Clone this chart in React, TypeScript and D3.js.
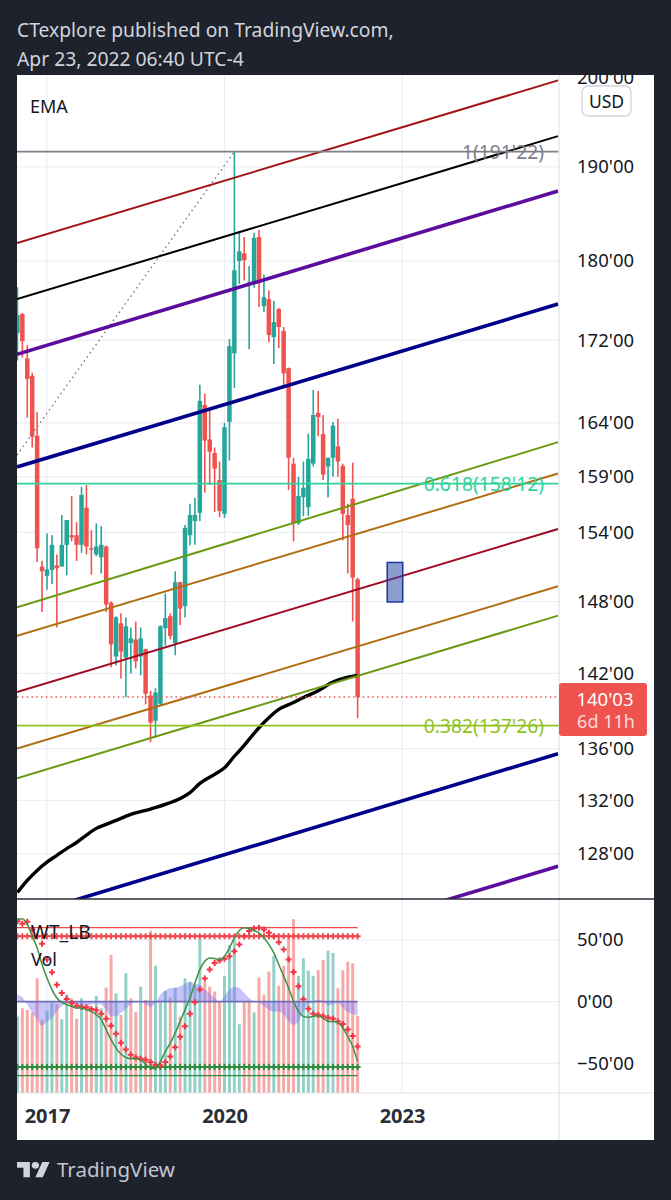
import React, { useEffect, useRef } from 'react';
import * as d3 from 'd3';

const WIDTH = 671;
const HEIGHT = 1200;
const FONT = '"Noto Sans", sans-serif';

// monthly candles, first one is Jul 2016 (month index counts from Jan 2017)
const firstMonth = -6;
const opens = [
  172.7, 174.6, 170.2, 168.5, 162.8, 151.0,
  150.2, 150.7, 151.1, 151.0, 152.9, 153.75, 153.75, 152.9, 156.2, 152.6, 152.05, 151.8,
  152.75, 147.9, 143.4, 146.15, 143.3, 144.5, 144.8, 143.4, 144.0, 140.2, 138.2, 139.55,
  145.75, 146.75, 144.5, 149.65, 147.6, 153.75, 155.0, 155.75, 165.7, 162.45, 161.2, 158.7,
  155.65, 164.1, 170.7, 180.0, 180.8, 177.6, 177.7, 182.5, 175.4, 176.1, 172.3, 175.1,
  172.9, 169.25, 160.2, 154.8, 157.15, 156.25, 160.2, 164.95, 162.95, 159.95, 160.75, 161.8,
  160.0, 155.55, 157.0, 149.9,
];
const highs = [
  177.3, 174.7, 171.5, 168.8, 165.0, 151.5,
  153.9, 153.75, 152.05, 155.55, 155.1, 157.25, 154.9, 158.1, 158.25, 154.2, 154.8, 154.55,
  152.85, 148.0, 146.75, 147.0, 146.65, 145.8, 146.3, 145.8, 144.05, 140.6, 140.8, 146.0,
  148.7, 147.0, 150.6, 149.7, 154.65, 156.55, 157.1, 167.65, 166.8, 165.25, 161.7, 160.4,
  164.0, 172.1, 191.75, 182.95, 182.5, 179.5, 182.95, 183.25, 178.6, 177.0, 175.9, 175.2,
  173.3, 169.3, 160.75, 159.0, 160.4, 163.0, 167.15, 167.05, 164.75, 160.75, 164.1, 164.4,
  160.2, 156.55, 160.3, 150.05,
];
const lows = [
  170.0, 170.3, 164.5, 161.7, 151.4, 147.1,
  149.0, 149.5, 145.8, 151.0, 150.25, 153.2, 151.5, 152.2, 152.05, 150.3, 151.9, 150.4,
  147.1, 142.5, 142.65, 141.6, 140.1, 142.0, 142.4, 141.85, 139.5, 136.5, 136.85, 139.4,
  144.3, 144.8, 143.5, 146.0, 146.65, 152.85, 152.9, 155.0, 157.55, 158.25, 155.8, 155.35,
  155.3, 160.5, 167.35, 177.65, 178.0, 171.1, 177.25, 175.3, 174.8, 171.8, 169.65, 171.2,
  167.55, 157.8, 153.2, 154.65, 155.45, 155.45, 159.95, 162.75, 158.7, 157.15, 159.0, 159.0,
  153.3, 150.4, 146.3, 138.4,
];
const closes = [
  174.5, 171.9, 168.2, 162.7, 152.6, 150.6,
  150.75, 152.9, 150.85, 152.9, 155.1, 153.55, 152.9, 157.35, 152.75, 152.5, 152.75, 152.9,
  147.75, 144.4, 146.65, 143.8, 145.9, 144.9, 143.0, 144.9, 140.35, 138.05, 140.45, 145.9,
  146.6, 145.1, 149.65, 147.4, 154.4, 155.55, 155.55, 166.1, 162.35, 161.3, 159.75, 155.9,
  163.6, 171.4, 179.05, 181.0, 180.1, 177.8, 182.4, 177.75, 176.3, 172.5, 173.8, 173.3,
  168.75, 160.75, 154.8, 157.25, 158.0, 160.65, 164.75, 164.55, 159.2, 160.75, 163.75, 160.4,
  155.65, 154.65, 150.05, 140.09,
];

const volumes = [
  43.9, 48.7, 47.7, 46.2, 65.9, 42.0,
  47.2, 51.6, 51.0, 42.4, 56.7, 54.4, 42.6, 54.4, 49.1, 47.7, 55.8, 48.7,
  60.6, 79.4, 57.3, 44.9, 68.8, 54.4, 46.4, 61.1, 53.5, 93.2, 73.2, 52.5,
  58.7, 54.8, 60.6, 43.9, 65.9, 64.0, 62.1, 88.9, 64.0, 61.1, 58.3, 52.5,
  67.3, 85.1, 88.0, 39.5, 52.5, 52.5, 46.4, 66.3, 56.4, 69.8, 78.8, 61.7,
  73.2, 88.9, 99.9, 67.3, 77.4, 70.3, 67.3, 70.7, 76.5, 81.8, 80.5, 60.2,
  70.5, 75.5, 74.6, 44.3,
];
// months whose volume bar is red although the candle closed up
const redVolumeMonths = [17, 41, 44];

const wtFast = [
  66.7, 67.2, 62.6, 53.1, 43.6, 30.1,
  19.2, 9.8, 3.0, -0.5, -2.4, -3.8, -5.1, -5.1, -6.5, -7.9, -10.6, -14.6,
  -22.8, -30.9, -37.7, -42.5, -45.3, -46.3, -46.3, -47.2, -50.7, -53.9, -54.5, -48.5,
  -40.4, -33.6, -25.5, -16.0, -6.5, 3.0, 15.2, 26.0, 32.8, 35.5, 35.0, 34.1,
  36.9, 43.6, 51.8, 57.7, 59.9, 59.3, 57.7, 55.8, 51.8, 46.3, 39.6, 30.1,
  20.6, 11.1, 0.3, -7.9, -11.9, -12.7, -11.9, -11.4, -13.3, -16.0, -16.0, -16.8,
  -21.4, -28.2, -36.3, -48.5,
];
const wtSlow = [
  65.3, 63.1, 64.8, 58.5, 53.1, 46.9,
  34.1, 23.8, 13.8, 7.0, 2.2, -1.1, -3.3, -4.3, -4.6, -6.0, -7.0, -9.8,
  -13.8, -19.5, -26.0, -33.3, -38.8, -43.1, -45.3, -46.3, -47.2, -49.0, -51.2, -51.8,
  -49.0, -44.5, -36.9, -28.5, -20.0, -9.8, -0.5, 9.8, 18.7, 26.0, 31.4, 33.3,
  34.7, 36.9, 40.9, 46.3, 53.1, 57.2, 59.3, 59.9, 58.5, 55.8, 53.1, 48.2,
  42.3, 34.1, 24.1, 12.5, 1.9, -5.7, -9.8, -10.8, -11.9, -13.0, -13.8, -16.0,
  -18.1, -22.5, -27.9, -36.3,
];
const wtArea = [
  5.7, 3.5, -2.4, -9.2, -14.6, -19.5,
  -16.5, -13.3, -7.9, -3.8, -1.1, -0.2, -2.4, -3.8, -3.8, -2.4, -1.1, -2.4,
  -6.5, -11.9, -11.9, -9.2, -5.7, -1.9, 0.3, 0.3, -2.4, -4.4, -1.1, 5.7,
  8.9, 11.1, 11.1, 12.5, 14.4, 16.0, 14.4, 13.8, 9.8, 7.0, 3.0, 0.3,
  4.3, 9.8, 11.9, 11.1, 7.0, 3.0, 0.3, -0.5, -3.8, -6.5, -7.9, -7.9,
  -10.6, -16.0, -18.7, -16.0, -7.9, -1.6, -0.2, 1.6, 0.3, -3.3, -1.9, -1.1,
  -5.1, -8.4, -10.0, -11.4,
];
const wtLevels = [60, 53, -53, -60];

const emaMonths = [-6, -4, -2, 0, 2, 4, 6, 8, 10, 12, 14, 17, 21, 24, 27, 29, 31, 34, 36, 38, 40, 42, 44, 47, 50, 52, 55, 58, 61, 63];
const emaValues = [
  125.2, 126.07, 126.8, 127.4, 127.9, 128.4, 128.85, 129.4, 129.9, 130.2, 130.5, 130.95, 131.35, 131.7, 132.15,
  132.6, 133.3, 134.0, 134.5, 135.4, 136.25, 137.2, 138.05, 139.1, 139.65, 140.05, 140.6, 141.3, 141.7, 141.85,
];

// channel lines, price at the left and right edge of the plot
const channelFrom = -6.085;
const channelTo = 103.65;
const channelLeft = [181.87, 176.1, 170.6, 159.9, 147.5, 145.1, 140.5, 136.0, 133.7, 123.4, 115.7];
const channelRight = [199.7, 193.4, 187.4, 175.6, 162.2, 159.3, 154.3, 149.3, 146.8, 135.6, 127.1];
const channelColors = ['#a31414', '#000000', '#5c0d9e', '#00008b', '#6b9a10', '#b06d12', '#a00a22', '#b06d12', '#6b9a10', '#00008b', '#5c0d9e'];
const channelWeights = [2, 2, 3.6, 3.6, 2, 2, 2, 2, 2, 3.6, 3.6];

const fibPrices = [191.6875, 158.375, 137.8125];
const fibNames = ['1', '0.618', '0.382'];
const fibColors = ['#7d8088', '#2fd29b', '#8fc31f'];

const trendMonths = [-6.085, 38];
const trendPrices = [161.0, 191.6875];

const boxMonths = [69, 72.15];
const boxPrices = [151.36, 147.96];

const priceTicks = [200, 190, 180, 172, 164, 159, 154, 148, 142, 136, 132, 128];
const wtTicks = [50, 0, -50];
const yearTicks = [2017, 2020, 2023];
const lastPrice = 140.09;

const formatPrice = (v: number) => {
  const whole = Math.floor(Math.abs(v));
  const ticks = Math.round((Math.abs(v) - whole) * 32);
  return `${v < 0 ? '\u2212' : ''}${whole}'${String(ticks).padStart(2, '0')}`;
};

const App: React.FC = () => {
  const svgRef = useRef<SVGSVGElement>(null);

  useEffect(() => {
    if (!svgRef.current) return;
    const svg = d3.select(svgRef.current);
    svg.selectAll('*').remove();

    const panel = { left: 17, right: 654, top: 75, bottom: 1140 };
    const plotRight = 559;
    const paneBottom = 899;
    const lowerBottom = 1093;

    const months = d3.range(opens.length).map((i) => firstMonth + i);
    const x = d3.scaleLinear().domain([0, 72]).range([47, 402]);
    const y = d3.scaleLog().domain([128, 190]).range([854, 167]);
    const wtY = d3.scaleLinear().domain([-50, 50]).range([1063.3, 940]);
    const volY = d3.scaleLinear().domain([0, 100]).range([lowerBottom, 919]);

    svg.append('rect').attr('width', WIDTH).attr('height', HEIGHT).attr('fill', '#1e222d');

    svg.append('text').attr('x', 17).attr('y', 37).attr('fill', '#d1d4dc')
      .attr('font-size', 19.3).attr('font-family', FONT)
      .text('CTexplore published on TradingView.com,');
    svg.append('text').attr('x', 17).attr('y', 66).attr('fill', '#d1d4dc')
      .attr('font-size', 19.3).attr('font-family', FONT)
      .text('Apr 23, 2022 06:40 UTC-4');

    const defs = svg.append('defs');
    defs.append('clipPath').attr('id', 'panel-clip').append('rect')
      .attr('x', panel.left).attr('y', panel.top)
      .attr('width', panel.right - panel.left).attr('height', panel.bottom - panel.top);
    defs.append('clipPath').attr('id', 'main-clip').append('rect')
      .attr('x', panel.left).attr('y', panel.top)
      .attr('width', plotRight - panel.left).attr('height', paneBottom - panel.top);
    defs.append('clipPath').attr('id', 'lower-clip').append('rect')
      .attr('x', panel.left).attr('y', paneBottom)
      .attr('width', plotRight - panel.left).attr('height', lowerBottom - paneBottom);

    svg.append('rect')
      .attr('x', panel.left).attr('y', panel.top)
      .attr('width', panel.right - panel.left).attr('height', panel.bottom - panel.top)
      .attr('fill', '#ffffff');

    // grid
    const grid = svg.append('g').attr('stroke', '#eceef5').attr('stroke-width', 1.2);
    yearTicks.forEach((yr) => {
      const gx = x((yr - 2017) * 12);
      grid.append('line').attr('x1', gx).attr('x2', gx).attr('y1', panel.top).attr('y2', lowerBottom);
    });
    priceTicks.slice(1).forEach((p) => {
      grid.append('line').attr('x1', panel.left).attr('x2', plotRight).attr('y1', y(p)).attr('y2', y(p));
    });
    wtTicks.forEach((v) => {
      grid.append('line').attr('x1', panel.left).attr('x2', plotRight).attr('y1', wtY(v)).attr('y2', wtY(v));
    });

    // main pane
    const main = svg.append('g').attr('clip-path', 'url(#main-clip)');

    months.forEach((m, i) => {
      const color = closes[i] >= opens[i] ? '#26a69a' : '#ef5350';
      const cx = x(m);
      main.append('line')
        .attr('x1', cx).attr('x2', cx)
        .attr('y1', y(highs[i])).attr('y2', y(lows[i]))
        .attr('stroke', color).attr('stroke-width', 1.6);
      const top = y(Math.max(opens[i], closes[i]));
      const bottom = y(Math.min(opens[i], closes[i]));
      main.append('rect')
        .attr('x', cx - 2.25).attr('y', top)
        .attr('width', 4.5).attr('height', Math.max(1.5, bottom - top))
        .attr('fill', color);
    });

    const ema = d3.line<number>()
      .x((_, i) => x(emaMonths[i]))
      .y((d) => y(d))
      .curve(d3.curveMonotoneX);
    main.append('path')
      .attr('d', ema(emaValues))
      .attr('fill', 'none').attr('stroke', '#000000').attr('stroke-width', 3.4);

    const trend = d3.line<number>().x((_, i) => x(trendMonths[i])).y((d) => y(d));
    main.append('path')
      .attr('d', trend(trendPrices))
      .attr('fill', 'none').attr('stroke', '#787b86')
      .attr('stroke-width', 1.4).attr('stroke-dasharray', '1.5 3.5');

    channelLeft.forEach((left, i) => {
      main.append('line')
        .attr('x1', x(channelFrom)).attr('y1', y(left))
        .attr('x2', x(channelTo)).attr('y2', y(channelRight[i]))
        .attr('stroke', channelColors[i]).attr('stroke-width', channelWeights[i]);
    });

    main.append('rect')
      .attr('x', x(boxMonths[0])).attr('y', y(boxPrices[0]))
      .attr('width', x(boxMonths[1]) - x(boxMonths[0]))
      .attr('height', y(boxPrices[1]) - y(boxPrices[0]))
      .attr('fill', '#2f4aa8').attr('fill-opacity', 0.55)
      .attr('stroke', '#1c3a9c').attr('stroke-width', 1.5);

    main.append('line')
      .attr('x1', panel.left).attr('x2', plotRight)
      .attr('y1', y(lastPrice)).attr('y2', y(lastPrice))
      .attr('stroke', '#ef5350').attr('stroke-width', 1.6).attr('stroke-dasharray', '1.6 3.2');

    fibPrices.forEach((p, i) => {
      main.append('line')
        .attr('x1', panel.left).attr('x2', plotRight)
        .attr('y1', y(p)).attr('y2', y(p))
        .attr('stroke', fibColors[i]).attr('stroke-width', 1.8);
      main.append('text')
        .attr('x', 544).attr('y', y(p))
        .attr('text-anchor', 'end').attr('dominant-baseline', 'central')
        .attr('fill', fibColors[i]).attr('font-size', 19.3).attr('font-family', FONT)
        .text(`${fibNames[i]}(${formatPrice(p)})`);
    });

    // lower pane
    const lower = svg.append('g').attr('clip-path', 'url(#lower-clip)');

    months.forEach((m, i) => {
      const red = closes[i] < opens[i] || redVolumeMonths.includes(m);
      lower.append('rect')
        .attr('x', x(m) - 1.5).attr('y', volY(volumes[i]))
        .attr('width', 3).attr('height', volY(0) - volY(volumes[i]))
        .attr('fill', red ? '#f6a9a7' : '#93d0c8');
    });

    const area = d3.area<number>()
      .x((_, i) => x(months[i]))
      .y0(wtY(0))
      .y1((d) => wtY(d))
      .curve(d3.curveMonotoneX);
    lower.append('path')
      .attr('d', area(wtArea))
      .attr('fill', '#7b6ff0').attr('fill-opacity', 0.42);
    lower.append('line')
      .attr('x1', panel.left).attr('x2', x(months[months.length - 1]))
      .attr('y1', wtY(0)).attr('y2', wtY(0))
      .attr('stroke', '#6f6fb8').attr('stroke-width', 1.6);

    const plus = d3.symbol().type(d3.symbolCross).size(20);
    wtLevels.forEach((level) => {
      const color = level > 0 ? '#f0474a' : '#2e8b3c';
      lower.append('line')
        .attr('x1', panel.left).attr('x2', x(months[months.length - 1]))
        .attr('y1', wtY(level)).attr('y2', wtY(level))
        .attr('stroke', color).attr('stroke-width', 1.4);
      if (Math.abs(level) === 53) {
        months.forEach((m) => {
          lower.append('path')
            .attr('d', plus()!)
            .attr('transform', `translate(${x(m)},${wtY(level)})`)
            .attr('fill', color);
        });
      }
    });

    const wtLine = d3.line<number>()
      .x((_, i) => x(months[i]))
      .y((d) => wtY(d))
      .curve(d3.curveMonotoneX);
    wtSlow.forEach((v, i) => {
      lower.append('path')
        .attr('d', plus()!)
        .attr('transform', `translate(${x(months[i])},${wtY(v)})`)
        .attr('fill', '#f23645');
    });
    lower.append('path')
      .attr('d', wtLine(wtFast))
      .attr('fill', 'none').attr('stroke', '#3f9142').attr('stroke-width', 1.5);

    // pane borders
    svg.append('line')
      .attr('x1', plotRight).attr('x2', plotRight)
      .attr('y1', panel.top).attr('y2', panel.bottom)
      .attr('stroke', '#e0e3eb').attr('stroke-width', 1.2);
    svg.append('line')
      .attr('x1', panel.left).attr('x2', panel.right)
      .attr('y1', lowerBottom).attr('y2', lowerBottom)
      .attr('stroke', '#e0e3eb').attr('stroke-width', 1.2);
    svg.append('line')
      .attr('x1', panel.left).attr('x2', panel.right)
      .attr('y1', paneBottom).attr('y2', paneBottom)
      .attr('stroke', '#2a2e39').attr('stroke-width', 1.4);

    // axes
    const priceAxis = svg.append('g')
      .attr('transform', `translate(${plotRight},0)`)
      .attr('clip-path', 'url(#panel-clip)')
      .call(d3.axisRight(y).tickValues(priceTicks).tickFormat((d) => formatPrice(+d)).tickSize(0).tickPadding(18));
    const wtAxis = svg.append('g')
      .attr('transform', `translate(${plotRight},0)`)
      .call(d3.axisRight(wtY).tickValues(wtTicks).tickFormat((d) => formatPrice(+d)).tickSize(0).tickPadding(18));
    [priceAxis, wtAxis].forEach((g) => {
      g.select('.domain').remove();
      g.selectAll('text')
        .attr('fill', '#131722').attr('font-size', 18.5).attr('font-family', FONT);
    });

    const timeAxis = svg.append('g')
      .attr('transform', `translate(0,${lowerBottom})`)
      .call(d3.axisBottom(x)
        .tickValues(yearTicks.map((yr) => (yr - 2017) * 12))
        .tickFormat((d) => String(2017 + +d / 12))
        .tickSize(0).tickPadding(16));
    timeAxis.select('.domain').remove();
    timeAxis.selectAll('text')
      .attr('fill', '#2a2e39').attr('font-size', 20).attr('font-weight', 700).attr('font-family', FONT);

    // currency badge
    svg.append('rect')
      .attr('x', 582).attr('y', 86).attr('width', 49).attr('height', 30).attr('rx', 6)
      .attr('fill', '#ffffff').attr('stroke', '#d1d4dc').attr('stroke-width', 1.3);
    svg.append('text')
      .attr('x', 606.5).attr('y', 101)
      .attr('text-anchor', 'middle').attr('dominant-baseline', 'central')
      .attr('fill', '#131722').attr('font-size', 17.5).attr('font-family', FONT)
      .text('USD');

    // last price tag
    svg.append('rect')
      .attr('x', plotRight).attr('y', 683).attr('width', 88).attr('height', 53).attr('rx', 3)
      .attr('fill', '#ef5350');
    svg.append('text')
      .attr('x', 605).attr('y', 698)
      .attr('text-anchor', 'middle').attr('dominant-baseline', 'central')
      .attr('fill', '#ffffff').attr('font-size', 18.5).attr('font-family', FONT)
      .text(formatPrice(lastPrice));
    svg.append('text')
      .attr('x', 606).attr('y', 721)
      .attr('text-anchor', 'middle').attr('dominant-baseline', 'central')
      .attr('fill', '#fcdcdb').attr('font-size', 18).attr('font-family', FONT)
      .text('6d 11h');

    // study titles
    [['EMA', 30, 106, 18], ['WT_LB', 31, 931, 19.3], ['Vol', 31, 959, 18]].forEach(([label, tx, ty, size]) => {
      svg.append('text')
        .attr('x', tx as number).attr('y', ty as number)
        .attr('dominant-baseline', 'central')
        .attr('fill', '#131722').attr('font-size', size as number).attr('font-family', FONT)
        .text(label as string);
    });

    // footer logo
    const logo = svg.append('g')
      .attr('fill', '#d1d4dc')
      .attr('transform', 'translate(17,1158.5) scale(0.92,0.85)');
    logo.append('path').attr('d', 'M14 22H7V11H0V4h14v18zM28 22h-8l7.5-18h8L28 22z');
    logo.append('circle').attr('cx', 20).attr('cy', 8).attr('r', 4);
    svg.append('text')
      .attr('x', 57).attr('y', 1177)
      .attr('fill', '#c3c6ce').attr('font-size', 20.5).attr('font-family', FONT)
      .text('TradingView');
  }, []);

  return (
    <svg
      ref={svgRef}
      width={WIDTH}
      height={HEIGHT}
      style={{ position: 'absolute', left: 0, top: 0, display: 'block' }}
    />
  );
};

export default App;
